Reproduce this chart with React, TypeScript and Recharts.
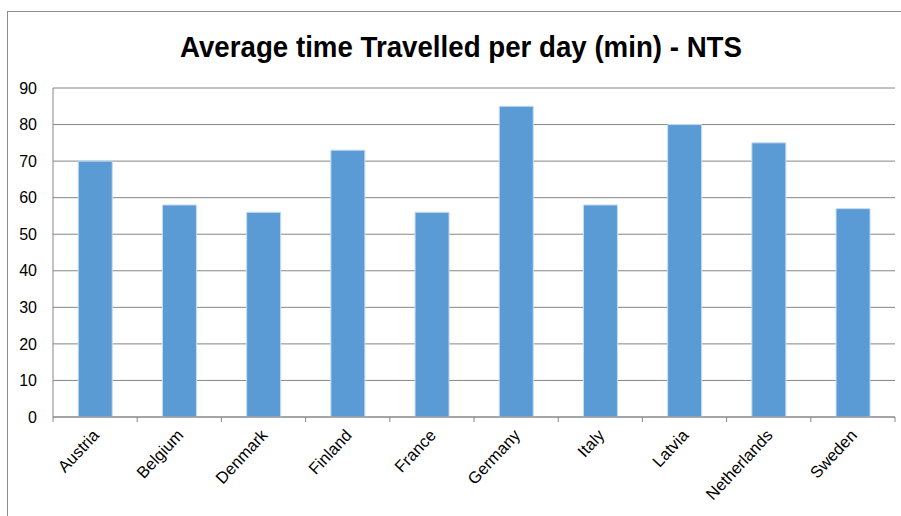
import { BarChart, Bar, XAxis, YAxis, CartesianGrid } from 'recharts';

const countries = ['Austria', 'Belgium', 'Denmark', 'Finland', 'France', 'Germany', 'Italy', 'Latvia', 'Netherlands', 'Sweden'];
const minutes = [70, 58, 56, 73, 56, 85, 58, 80, 75, 57];
const yTicks = [0, 10, 20, 30, 40, 50, 60, 70, 80, 90];

const data = countries.map((name, i) => ({ name, value: minutes[i] }));

const FONT = '"Liberation Sans", Arial, sans-serif';
const AXIS_COLOR = '#868686';

// category ticks sit between the bars, like Excel does it
const CountryTick = (props: any) => {
  const { x, y, payload, index } = props;
  const half = payload?.offset || 42.1;
  const last = index === countries.length - 1;
  return (
    <g>
      <line x1={x - half} x2={x - half} y1={y} y2={y + 5} stroke={AXIS_COLOR} />
      {last && <line x1={x + half} x2={x + half} y1={y} y2={y + 5} stroke={AXIS_COLOR} />}
      <text
        transform={`translate(${x + 5},${y + 19}) rotate(-47)`}
        textAnchor="end"
        fontSize={16.5}
        fontFamily={FONT}
        fill="#000"
      >
        {payload.value}
      </text>
    </g>
  );
};

export default function App() {
  return (
    <div
      style={{
        position: 'fixed',
        left: 0,
        top: 0,
        width: 901,
        height: 516,
        overflow: 'hidden',
        background: '#fff',
      }}
    >
      <div
        style={{
          position: 'absolute',
          left: 7,
          top: 11,
          width: 940,
          height: 560,
          border: '1px solid #8c8c8c',
        }}
      />
      <svg width={901} height={80} style={{ position: 'absolute', left: 0, top: 0 }}>
        <text
          x={180}
          y={57}
          fontSize={30}
          fontWeight="bold"
          fontFamily={FONT}
          textLength={562}
          lengthAdjust="spacingAndGlyphs"
          fill="#000"
        >
          Average time Travelled per day (min) - NTS
        </text>
      </svg>
      <div style={{ position: 'absolute', left: 0, top: 0 }}>
        <BarChart
          width={901}
          height={516}
          data={data}
          margin={{ top: 88, right: 6, left: 0, bottom: 0 }}
          barCategoryGap="30%"
        >
          <CartesianGrid vertical={false} stroke={AXIS_COLOR} />
          <XAxis
            dataKey="name"
            height={99}
            interval={0}
            tickLine={false}
            tickSize={0}
            tickMargin={0}
            axisLine={{ stroke: AXIS_COLOR }}
            tick={<CountryTick />}
          />
          <YAxis
            width={53}
            domain={[0, 90]}
            ticks={yTicks}
            tickLine={false}
            tickSize={0}
            tickMargin={16}
            axisLine={{ stroke: AXIS_COLOR }}
            tick={{ fill: '#000', fontSize: 16, fontFamily: FONT }}
          />
          <Bar dataKey="value" fill="#5b9bd5" stroke="#c6dcf1" strokeWidth={1} isAnimationActive={false} />
        </BarChart>
      </div>
    </div>
  );
}
